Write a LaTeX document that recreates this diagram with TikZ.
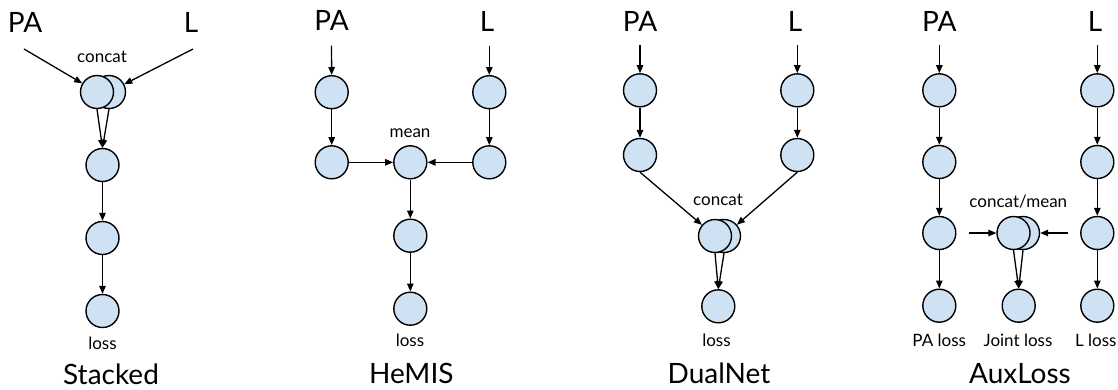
\documentclass[tikz,border=0pt]{standalone}
\usepackage{fontspec}
\setmainfont{Lato}
\usetikzlibrary{arrows.meta}
\definecolor{cellblue}{HTML}{CFE2F3}
\begin{document}
\begin{tikzpicture}[x=1pt,y=-1pt,
  cell/.style={circle,draw=black,fill=cellblue,line width=1.4pt,minimum size=33pt,inner sep=0pt},
  bigtxt/.style={font=\fontsize{28}{30}\selectfont,anchor=base,inner sep=0pt},
  smalltxt/.style={font=\fontsize{17}{19}\selectfont,anchor=base,inner sep=0pt},
  arr/.style={-{Triangle[length=8pt,width=6.5pt]},line width=1.3pt},
]
\useasboundingbox (0,0) rectangle (1118,389);

% ---------- Stacked ----------
\node[bigtxt] (sPA) at (25,32) {PA};
\node[bigtxt] (sL) at (191,32) {L};
\coordinate (sPAo) at (24,49);
\coordinate (sLo) at (193,49);
\node[cell] (sCb) at (109,92) {};
\node[cell] (sC) at (97,92) {};
\node[smalltxt] (sCt) at (102,62.7) {concat};
\node[cell] (s1) at (102.5,165) {};
\node[cell] (s2) at (102.5,238) {};
\node[cell] (s3) at (102.5,311) {};
\node[smalltxt] (sLoss) at (102.5,349) {loss};
\node[bigtxt] (sT) at (111,384.5) {Stacked};
\draw[arr] (sPAo) -- (sC);
\draw[arr] (sLo) -- (sCb);
\draw[arr] (sC.south) -- (s1.north);
\draw[arr] (sCb.south) -- (s1.north);
\draw[arr] (s1) -- (s2);
\draw[arr] (s2) -- (s3);

% ---------- HeMIS ----------
\node[bigtxt] (hPA) at (331.5,30.5) {PA};
\node[bigtxt] (hL) at (487,31) {L};
\node[cell] (h1) at (331.7,92.2) {};
\node[cell] (h2) at (331.7,162.3) {};
\node[cell] (hr1) at (489.3,92.2) {};
\node[cell] (hr2) at (489.3,162.3) {};
\node[cell] (hm) at (410.3,162.3) {};
\node[smalltxt] (hmt) at (410,137) {mean};
\node[cell] (h3) at (410.3,235.7) {};
\node[cell] (h4) at (410.3,308.7) {};
\node[smalltxt] (hLoss) at (410,346.5) {loss};
\node[bigtxt] (hT) at (411.3,383) {HeMIS};
\draw[arr,shorten <=15pt] (hPA.south) -- (h1);
\draw[arr,shorten <=15pt] (hr1 |- hL.south) -- (hr1);
\draw[arr] (h1) -- (h2);
\draw[arr] (hr1) -- (hr2);
\draw[arr] (h2) -- (hm);
\draw[arr] (hr2) -- (hm);
\draw[arr] (hm) -- (h3);
\draw[arr] (h3) -- (h4);

% ---------- DualNet ----------
\node[bigtxt] (dPA) at (640,31) {PA};
\node[bigtxt] (dL) at (795,31) {L};
\node[cell] (d1) at (640,90.3) {};
\node[cell] (d2) at (640,155) {};
\node[cell] (dr1) at (797.3,90.3) {};
\node[cell] (dr2) at (797.3,155) {};
\node[cell] (dCb) at (724,236) {};
\node[cell] (dC) at (715,236) {};
\node[smalltxt] (dCt) at (718,205.7) {concat};
\node[cell] (dl) at (718.3,306.3) {};
\node[smalltxt] (dLoss) at (716.5,346.5) {loss};
\node[bigtxt] (dT) at (719,383) {DualNet};
\draw[arr,shorten <=14pt] (dPA.south) -- (d1);
\draw[arr,shorten <=14pt] (dr1 |- dL.south) -- (dr1);
\draw[arr] (d1) -- (d2);
\draw[arr] (dr1) -- (dr2);
\draw[arr] (d2.south) -- (dC);
\draw[arr] (dr2.south) -- (dCb);
\draw[arr] (dC.south) -- (dl.north);
\draw[arr] (dCb.south) -- (dl.north);

% ---------- AuxLoss ----------
\node[bigtxt] (aPA) at (939.3,31) {PA};
\node[bigtxt] (aL) at (1095,31) {L};
\node[cell] (a1) at (939.3,90.3) {};
\node[cell] (a2) at (939.3,162) {};
\node[cell] (a3) at (939.3,233) {};
\node[cell] (a4) at (939.3,305.7) {};
\node[cell] (b1) at (1097.3,90.3) {};
\node[cell] (b2) at (1097.3,162) {};
\node[cell] (b3) at (1097.3,233) {};
\node[cell] (b4) at (1097.3,305.7) {};
\node[cell] (aCb) at (1023,233) {};
\node[cell] (aC) at (1013.5,233) {};
\node[smalltxt] (aCt) at (1018.3,207) {concat/mean};
\node[cell] (aj) at (1018.7,305.7) {};
\node[smalltxt] (aPAl) at (939.2,346.5) {PA loss};
\node[smalltxt] (ajl) at (1018,346.5) {Joint loss};
\node[smalltxt] (aLl) at (1095.8,346.5) {L loss};
\node[bigtxt] (aT) at (1020,383) {AuxLoss};
\draw[arr,shorten <=14pt] (aPA.south) -- (a1);
\draw[arr,shorten <=14pt] (b1 |- aL.south) -- (b1);
\draw[arr] (a1) -- (a2);
\draw[arr] (a2) -- (a3);
\draw[arr] (a3) -- (a4);
\draw[arr] (b1) -- (b2);
\draw[arr] (b2) -- (b3);
\draw[arr] (b3) -- (b4);
\draw[arr,shorten <=12.5pt] (a3.east) -- (aC.west);
\draw[arr,shorten <=12pt] (b3.west) -- (aCb.east);
\draw[arr] (aC.south) -- (aj.north);
\draw[arr] (aCb.south) -- (aj.north);
\end{tikzpicture}
\end{document}
